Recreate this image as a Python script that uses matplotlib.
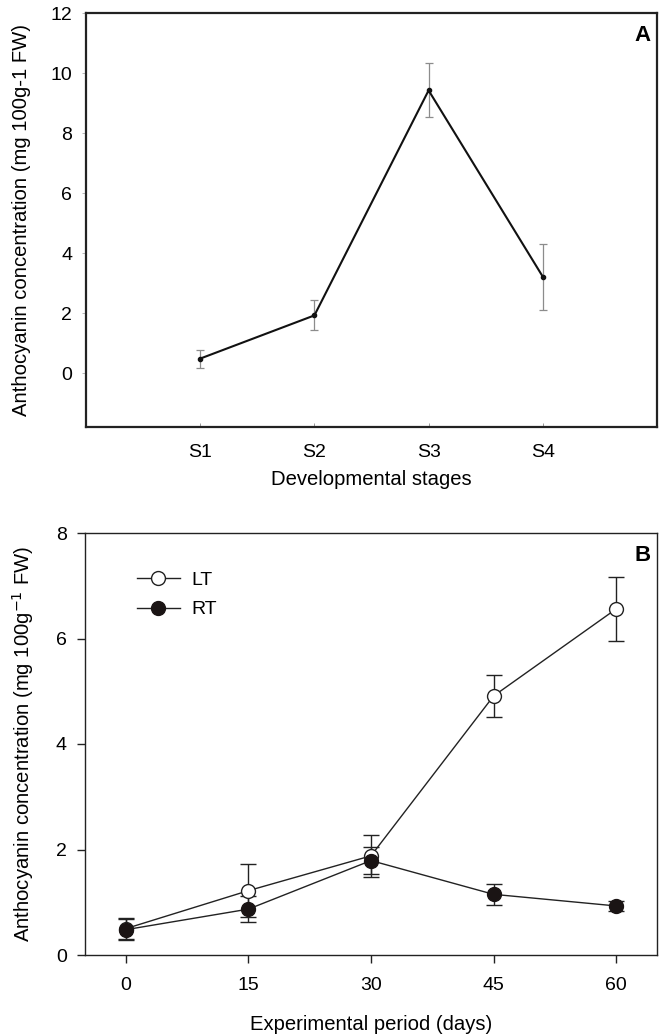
import numpy as np
import matplotlib
matplotlib.use('Agg')
import matplotlib.pyplot as plt

plt.rcParams['font.family'] = ['Liberation Sans', 'DejaVu Sans']

# panel A data
stages = ['S1', 'S2', 'S3', 'S4']
stage_mean = [0.48, 1.92, 9.42, 3.21]
stage_err = [0.30, 0.50, 0.90, 1.10]

# panel B data
days = [0, 15, 30, 45, 60]
lt_mean = [0.50, 1.22, 1.88, 4.91, 6.56]
lt_err = [0.20, 0.50, 0.40, 0.40, 0.60]
rt_mean = [0.48, 0.87, 1.79, 1.15, 0.93]
rt_err = [0.20, 0.25, 0.26, 0.20, 0.10]

FS = 14
LFS = 14.6

fig = plt.figure(figsize=(6.64, 10.34), dpi=100)
W, H = 664, 1034

# top panel
ax1 = fig.add_axes([86 / W, 1 - 427 / H, (657 - 86) / W, (427 - 13) / H])
x1 = np.arange(1, len(stages) + 1)
ax1.errorbar(x1, stage_mean, yerr=stage_err, fmt='none', ecolor='#8c8c8c',
             elinewidth=0.9, capsize=3, capthick=0.9, zorder=2)
ax1.plot(x1, stage_mean, color='#111111', lw=1.5, marker='o', ms=3, zorder=3)
ax1.set_xlim(0, 5)
ax1.set_ylim(-1.8, 12)
ax1.set_xticks(x1)
ax1.set_xticklabels(stages)
ax1.set_yticks([0, 2, 4, 6, 8, 10, 12])
ax1.tick_params(axis='x', direction='in', length=3, width=0.6, color='#888888',
                labelsize=FS, pad=12)
ax1.tick_params(axis='y', direction='out', length=3, width=0.6, color='#aaaaaa',
                labelsize=FS, pad=7)
for s in ax1.spines.values():
    s.set_linewidth(1.6)
    s.set_color('#222222')
ax1.set_xlabel('Developmental stages', fontsize=LFS, labelpad=7)
ax1.set_ylabel('Anthocyanin concentration (mg 100g-1 FW)', fontsize=LFS,
               labelpad=14)
ax1.text(0.988, 0.972, 'A', transform=ax1.transAxes, ha='right', va='top',
         fontsize=16, fontweight='bold')

# bottom panel
ax2 = fig.add_axes([85 / W, 1 - 955 / H, (657 - 85) / W, (955 - 533) / H])
ax2.errorbar(days, lt_mean, yerr=lt_err, fmt='none', ecolor='#222222',
             elinewidth=1, capsize=6, capthick=1, zorder=2)
ax2.errorbar(days, rt_mean, yerr=rt_err, fmt='none', ecolor='#222222',
             elinewidth=1, capsize=6, capthick=1, zorder=2)
ax2.plot(days, lt_mean, color='#222222', lw=1, marker='o', ms=10,
         mfc='white', mec='#222222', mew=1, label='LT', zorder=3)
ax2.plot(days, rt_mean, color='#222222', lw=1, marker='o', ms=10,
         mfc='#1a1414', mec='#1a1414', mew=1, label='RT', zorder=4)
ax2.set_xlim(-5, 65)
ax2.set_ylim(0, 8)
ax2.set_xticks(days)
ax2.set_yticks([0, 2, 4, 6, 8])
ax2.tick_params(axis='both', direction='out', length=6, width=1,
                color='#222222', labelsize=FS)
ax2.tick_params(axis='x', pad=10)
ax2.tick_params(axis='y', pad=7)
for s in ax2.spines.values():
    s.set_linewidth(1)
    s.set_color('#222222')
ax2.set_xlabel('Experimental period (days)', fontsize=LFS, labelpad=15)
ax2.set_ylabel('Anthocyanin concentration (mg 100g$^{-1}$ FW)', fontsize=LFS,
               labelpad=14)
ax2.legend(loc='upper left', bbox_to_anchor=(0.06, 0.95), frameon=False,
           fontsize=FS, handlelength=2.2, handletextpad=0.6, labelspacing=0.6)
ax2.text(0.988, 0.972, 'B', transform=ax2.transAxes, ha='right', va='top',
         fontsize=16, fontweight='bold')

fig.savefig('out.png', dpi=100)
